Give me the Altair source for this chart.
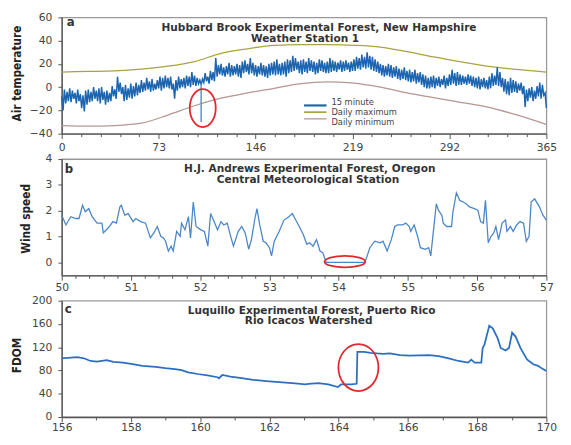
import altair as alt
import pandas as pd

FONT = "DejaVu Sans, Liberation Sans, sans-serif"
NARROW = "DejaVu Sans Condensed, Liberation Sans Narrow, Liberation Sans, sans-serif"

# ---------------- Panel a : Hubbard Brook air temperature ----------------
# upper and lower edges of the 15-minute band, read every 2 days (day 0..364)
band_days = list(range(0, 365, 2))
band_upper = [
    -8, -2, -4, -1, -3, -5, -2, -6, -7, -3,
    -2, -4, 0, -3, -1, 0, -4, -3, -5, 1,
    -2, 9, 4, 0, 2, -1, 3, 1, 4, 2,
    6, 4, 8, 5, 7, 3, 6, 9, 8, 10,
    8, 9, 3, 6, 9, 7, 8, 10, 9, 13,
    10, 8, 6, 7, 12, 9, 14, 13, 25, 19,
    20, 17, 18, 21, 19, 18, 20, 19, 22, 23,
    20, 25, 21, 19, 18, 21, 19, 18, 20, 21,
    22, 24, 20, 21, 22, 24, 23, 27, 25, 22,
    23, 24, 22, 25, 23, 22, 21, 24, 23, 21,
    22, 25, 23, 22, 21, 23, 22, 23, 21, 22,
    24, 26, 25, 28, 26, 30, 27, 26, 24, 22,
    20, 19, 18, 20, 19, 17, 18, 16, 15, 17,
    14, 15, 13, 15, 12, 13, 11, 10, 8, 9,
    10, 8, 9, 7, 10, 8, 11, 15, 12, 13,
    11, 10, 9, 11, 10, 9, 8, 9, 7, 8,
    6, 9, 12, 10, 17, 13, 8, 7, 5, 8,
    6, 5, 3, 4, 1, -2, -1, 0, -3, 1,
    4, 2, -5,
]
band_lower = [
    -20, -14, -12, -13, -10, -14, -12, -18, -21, -15,
    -13, -12, -10, -12, -14, -11, -15, -13, -12, -8,
    -10, -4, -6, -12, -11, -9, -10, -8, -7, -5,
    -4, -3, -2, -4, -3, -2, -1, -3, -1, 0,
    -1, -2, -10, -3, -1, 0, -1, 1, 0, 2,
    1, 3, 2, 4, 5, 3, 6, 5, 9, 11,
    10, 9, 11, 9, 10, 11, 9, 8, 12, 13,
    11, 12, 10, 9, 11, 10, 9, 8, 10, 11,
    10, 11, 10, 11, 9, 12, 13, 14, 15, 12,
    11, 13, 12, 14, 13, 11, 12, 14, 13, 12,
    12, 13, 14, 13, 15, 13, 14, 15, 13, 14,
    14, 16, 15, 17, 16, 17, 15, 14, 13, 12,
    10, 9, 10, 9, 8, 9, 7, 6, 7, 6,
    5, 4, 5, 3, 4, 2, 0, -1, -1, 0,
    -1, 1, 0, 2, -1, 1, 2, 3, 1, 2,
    2, 3, 2, 3, 1, 0, -1, -2, 0, -1,
    -2, -1, 1, 2, 1, 0, -4, -6, -7, -5,
    -4, -5, -3, -6, -17, -12, -9, -12, -10, -8,
    -10, -7, -18,
]
env_days = [0, 20, 40, 60, 80, 100, 120, 140, 160, 180, 200, 220, 240, 260, 280, 300, 320, 340, 365]
daily_max = [13, 13.5, 14, 15.5, 18, 22, 29, 33, 36, 36.5, 36.5, 36, 34.5, 30.5, 26, 22, 18, 15.5, 13]
daily_min = [-33, -33.5, -33, -31, -24, -16, -9.5, -5, -1, 3, 4.5, 3.5, 0, -5, -9, -13, -17, -23, -32]
spike_day = [105]
spike_top = [3]
spike_bottom = [-30]
legend_labels = ["15 minute", "Daily maximum", "Daily minimum"]
title_a = ["Hubbard Brook Experimental Forest, New Hampshire", "Weather Station 1"]
ann_a_x = [106.2]
ann_a_y = [-18]

# ---------------- Panel b : H.J. Andrews wind speed ----------------
wind_days = [
    50.00, 50.06, 50.13, 50.20, 50.25, 50.30, 50.34, 50.39, 50.44, 50.51,
    50.58, 50.60, 50.67, 50.74, 50.79, 50.84, 50.86, 50.91, 50.96, 51.03,
    51.07, 51.14, 51.21, 51.28, 51.33, 51.38, 51.43, 51.47, 51.50, 51.54,
    51.58, 51.61, 51.66, 51.71, 51.73, 51.78, 51.83, 51.86, 51.90, 51.94,
    52.01, 52.06, 52.11, 52.15, 52.20, 52.25, 52.30, 52.34, 52.39, 52.44,
    52.48, 52.55, 52.60, 52.65, 52.70, 52.74, 52.79, 52.82, 52.86, 52.91,
    52.95, 53.00, 53.03, 53.07, 53.14, 53.21, 53.28, 53.33, 53.38, 53.43,
    53.49, 53.54, 53.58, 53.63, 53.68, 53.73, 53.77, 53.82, 54.38, 54.45,
    54.52, 54.60, 54.64, 54.70, 54.76, 54.81, 54.85, 54.92, 54.97, 55.02,
    55.04, 55.09, 55.14, 55.18, 55.25, 55.30, 55.33, 55.37, 55.41, 55.44,
    55.49, 55.51, 55.56, 55.63, 55.65, 55.70, 55.75, 55.80, 55.84, 55.89,
    55.96, 56.01, 56.05, 56.09, 56.12, 56.16, 56.20, 56.24, 56.27, 56.31,
    56.36, 56.41, 56.43, 56.48, 56.52, 56.57, 56.62, 56.67, 56.71, 56.75,
    56.78, 56.83, 56.90, 56.95, 57.00,
]
wind_speed = [
    1.83, 1.45, 1.77, 1.70, 1.70, 2.21, 1.96, 2.08, 1.77, 1.52,
    1.52, 1.14, 1.33, 1.58, 1.52, 2.15, 2.21, 1.83, 1.89, 1.58,
    1.70, 1.58, 1.52, 0.95, 1.14, 1.39, 1.01, 0.95, 0.82, 0.44,
    0.63, 0.44, 1.20, 1.01, 1.52, 1.26, 1.77, 0.95, 2.34, 1.39,
    1.26, 1.20, 0.63, 1.89, 1.58, 1.26, 1.58, 1.45, 1.52, 1.01,
    0.63, 1.20, 1.39, 1.14, 0.51, 0.88, 1.70, 2.08, 1.45, 0.82,
    0.76, 0.57, 0.25, 0.82, 1.20, 1.64, 1.77, 1.89, 1.64, 1.39,
    1.07, 0.70, 0.76, 0.63, 0.88, 0.44, 0.38, 0.00, 0.00, 0.57,
    0.82, 0.76, 0.82, 0.44, 0.88, 1.39, 1.45, 1.45, 1.52, 1.39,
    1.20, 1.45, 1.01, 0.57, 0.51, 0.57, 0.25, 1.26, 2.27, 2.02,
    1.83, 1.52, 1.39, 1.39, 1.96, 2.69, 2.40, 2.34, 2.27, 2.15,
    2.08, 2.02, 1.58, 1.52, 2.40, 0.76, 1.01, 1.14, 1.39, 0.88,
    1.52, 1.64, 1.20, 1.39, 1.20, 1.45, 1.58, 1.52, 0.82, 1.01,
    2.34, 2.46, 2.15, 1.83, 1.64,
]
title_b = ["H.J. Andrews Experimental Forest, Oregon", "Central Meteorological Station"]
ann_b_x = [54.09]
ann_b_y = [0.03]

# ---------------- Panel c : Luquillo FDOM ----------------
fdom_days = [
    156.00, 156.45, 156.64, 156.83, 157.02, 157.30, 157.49, 157.77, 158.05, 158.33,
    158.71, 158.99, 159.27, 159.46, 159.65, 159.93, 160.21, 160.50, 160.54, 160.64,
    160.87, 161.15, 161.53, 161.91, 162.28, 162.66, 163.04, 163.13, 163.41, 163.70,
    163.98, 164.07, 164.35, 164.52, 164.54, 164.73, 164.92, 165.11, 165.29, 165.48,
    165.77, 166.05, 166.33, 166.61, 166.89, 167.18, 167.46, 167.74, 167.83, 167.93,
    168.12, 168.16, 168.21, 168.35, 168.45, 168.59, 168.68, 168.82, 168.92, 169.01,
    169.11, 169.25, 169.44, 169.62, 169.76, 169.90, 170.00,
]
fdom = [
    101, 103, 101, 96.4, 95.3, 98, 94.7, 93.6, 90.8, 88,
    86.3, 84.1, 82.4, 80.7, 76.8, 74, 71.8, 68.4, 66.7, 72.3,
    69.5, 67.3, 63.9, 61.7, 60, 58.3, 56.1, 57.2, 58.3, 56.1,
    51.6, 56.1, 56.1, 57.2, 112, 112, 110.4, 109.3, 108.7, 109.3,
    106.5, 105.4, 105.9, 106.5, 104.8, 101, 96.4, 93.6, 98.6, 93.6,
    93.6, 118.8, 124.4, 157, 152.4, 135.6, 118.8, 114.3, 118.8, 145,
    138.4, 118.8, 99.2, 90.8, 88, 82.4, 79,
]
title_c = ["Luquillo Experimental Forest, Puerto Rico", "Rio Icacos Watershed"]
ann_c_x = [164.57]
ann_c_y = [85]

# ---------------- styling ----------------
BLUE_A = "#1c65b0"
MAX_C = "#a9a43c"
MIN_C = "#b69696"
SPIKE_C = "#5b9bd8"
WIND_C = "#4a86c8"
FDOM_C = "#2d6fbf"
RED = "#e2282c"
legend_colors = [BLUE_A, MAX_C, MIN_C]

W = 496
H = 119
TITLE_SIZE = 10.8


def ellipse_path(rx, ry):
    m = max(rx, ry)
    a, b = rx / m, ry / m
    return (f"M {-a:.3f} 0 A {a:.3f} {b:.3f} 0 1 0 {a:.3f} 0 A {a:.3f} {b:.3f} 0 1 0 {-a:.3f} 0 Z", (2 * m) ** 2)


def x_axis(majors, n_sub, pad):
    vals = []
    for i, m in enumerate(majors):
        vals.append(m)
        if i < len(majors) - 1:
            step = (majors[i + 1] - m) / n_sub
            vals += [m + k * step for k in range(1, n_sub)]
    test = " || ".join(f"datum.value === {m}" for m in majors)
    return alt.Axis(
        values=vals,
        labelExpr=f"({test}) ? format(datum.value, 'd') : ''",
        tickSize={"condition": {"test": test, "value": 5}, "value": 3},
        labelFlush=False, labelOverlap=False, labelPadding=pad,
        title=None, grid=False,
    )


def y_axis(values, title, tx, ty):
    return alt.Axis(
        values=values, title=title, titleX=tx, titleY=ty, titleAngle=270,
        titleAlign="center", titleBaseline="middle", titleFont=NARROW,
        titleFontSize=12, titleFontWeight="bold", titleColor="#222",
        tickSize=4, labelPadding=6, grid=False,
    )


def text_layer(s, x, y, size=TITLE_SIZE, weight="bold", align="center"):
    return alt.Chart(pd.DataFrame({"s": [s]})).mark_text(
        align=align, baseline="alphabetic", fontSize=size, fontWeight=weight,
        font=FONT, color="#333"
    ).encode(x=alt.value(x), y=alt.value(y), text="s:N")


def ellipse_layer(xs, ys, rx, ry, xenc, yscale, yaxis):
    path, size = ellipse_path(rx, ry)
    return alt.Chart(pd.DataFrame({"x": xs, "y": ys})).mark_point(
        shape=path, size=size, filled=False, color=RED, strokeWidth=1.8, opacity=1
    ).encode(x=xenc("x"), y=alt.Y("y:Q", scale=yscale, axis=yaxis))


# ---- panel a ----
xa_scale = alt.Scale(domain=[0, 365], nice=False, zero=False)
xa_axis = x_axis([0, 73, 146, 219, 292, 365], 5, 3)


def xa(field):
    return alt.X(f"{field}:Q", scale=xa_scale, axis=xa_axis)


ya_scale = alt.Scale(domain=[-40, 60], nice=False, zero=False)

# the 15-minute trace swings between the band's upper and lower edges day by day
rows15 = []
for d, u, lo in zip(band_days, band_upper, band_lower):
    rows15.append({"day": d, "t": u})
    rows15.append({"day": d + 1, "t": lo})
df15 = pd.DataFrame(rows15)
dfenv = pd.DataFrame({"day": env_days, "tmax": daily_max, "tmin": daily_min})
dfspike = pd.DataFrame({"day": spike_day, "top": spike_top, "bottom": spike_bottom})
dfleg = pd.DataFrame({"label": legend_labels})

tmax_l = alt.Chart(dfenv).mark_line(color=MAX_C, strokeWidth=1.3, interpolate="monotone").encode(
    x=xa("day"), y=alt.Y("tmax:Q", scale=ya_scale, axis=None))
tmin_l = alt.Chart(dfenv).mark_line(color=MIN_C, strokeWidth=1.3, interpolate="monotone").encode(
    x=xa("day"), y=alt.Y("tmin:Q", scale=ya_scale, axis=None))
blue_l = alt.Chart(df15).mark_line(color=BLUE_A, strokeWidth=1.5).encode(
    x=xa("day"),
    y=alt.Y("t:Q", scale=ya_scale,
            axis=y_axis([-40, -20, 0, 20, 40, 60], "Air temperature", -45.7, 57)))
spike_l = alt.Chart(dfspike).mark_rule(color=SPIKE_C, strokeWidth=1.6).encode(
    x=xa("day"), y=alt.Y("top:Q", scale=ya_scale, axis=None), y2="bottom:Q")
ell_a = ellipse_layer(ann_a_x, ann_a_y, 13.3, 19.5, xa, ya_scale, None)

leg_y = alt.Y("label:N", scale=alt.Scale(domain=legend_labels, range=[86.7, 107.3], padding=0), axis=None)
leg_color = alt.Color("label:N", scale=alt.Scale(domain=legend_labels, range=legend_colors), legend=None)
leg_width = alt.StrokeWidth("label:N", scale=alt.Scale(domain=legend_labels, range=[2.2, 1.3, 1.3]), legend=None)
leg_rule = alt.Chart(dfleg).mark_rule().encode(
    x=alt.value(248), x2=alt.value(271), y=leg_y, color=leg_color, strokeWidth=leg_width)
leg_text = alt.Chart(dfleg).mark_text(align="left", baseline="middle", fontSize=8.5, font=FONT,
                                      color="#444").encode(x=alt.value(276), y=leg_y, text="label:N")

panel_a = alt.layer(
    tmax_l, tmin_l, blue_l, spike_l, ell_a, leg_rule, leg_text,
    text_layer(title_a[0], 263.3, 13.7), text_layer(title_a[1], 249, 25.3),
    text_layer("a", 5, 8.7, size=12, align="left"),
).resolve_scale(y="independent").properties(width=W, height=H)

# ---- panel b ----
xb_scale = alt.Scale(domain=[50, 57], nice=False, zero=False)
xb_axis = x_axis([50, 51, 52, 53, 54, 55, 56, 57], 5, 2)


def xb(field):
    return alt.X(f"{field}:Q", scale=xb_scale, axis=xb_axis)


yb_scale = alt.Scale(domain=[-0.5, 4], nice=False, zero=False)
yb_axis = y_axis([0, 1, 2, 3, 4], "Wind speed", -37, 60.7)
dfw = pd.DataFrame({"day": wind_days, "w": wind_speed})
wind_l = alt.Chart(dfw).mark_line(color=WIND_C, strokeWidth=1.3).encode(
    x=xb("day"), y=alt.Y("w:Q", scale=yb_scale, axis=yb_axis))
ell_b = ellipse_layer(ann_b_x, ann_b_y, 20.8, 5.85, xb, yb_scale, yb_axis)
panel_b = alt.layer(
    wind_l, ell_b,
    text_layer(title_b[0], 253.8, 13.3), text_layer(title_b[1], 252, 24.7),
    text_layer("b", 3, 14, size=12, align="left"),
).properties(width=W, height=H)

# ---- panel c ----
xc_scale = alt.Scale(domain=[156, 170], nice=False, zero=False)
xc_axis = x_axis([156, 158, 160, 162, 164, 166, 168, 170], 2, 0)


def xc(field):
    return alt.X(f"{field}:Q", scale=xc_scale, axis=xc_axis)


yc_scale = alt.Scale(domain=[0, 200], nice=False, zero=False)
yc_axis = y_axis([0, 40, 80, 120, 160, 200], "FDOM", -46.5, 55.5)
dff = pd.DataFrame({"day": fdom_days, "f": fdom})
fdom_l = alt.Chart(dff).mark_line(color=FDOM_C, strokeWidth=1.8).encode(
    x=xc("day"), y=alt.Y("f:Q", scale=yc_scale, axis=yc_axis))
ell_c = ellipse_layer(ann_c_x, ann_c_y, 20.5, 24, xc, yc_scale, yc_axis)
panel_c = alt.layer(
    fdom_l, ell_c,
    text_layer(title_c[0], 255.7, 13.3), text_layer(title_c[1], 252.7, 24.3),
    text_layer("c", 3, 12.3, size=12, align="left"),
).properties(width=W, height=H)

chart = alt.vconcat(panel_a, panel_b, panel_c, spacing=26, bounds="flush").properties(
    padding={"left": 1, "top": -2.5, "right": 5, "bottom": 5}
).configure_axis(
    labelFont=FONT, labelFontSize=11, labelColor="#444",
    domainColor="#555", domainWidth=1.3, tickColor="#555", tickWidth=1,
).configure_view(stroke="#999", strokeWidth=1.3)

chart.save("out.html", embed_options={"renderer": "svg", "actions": False})
